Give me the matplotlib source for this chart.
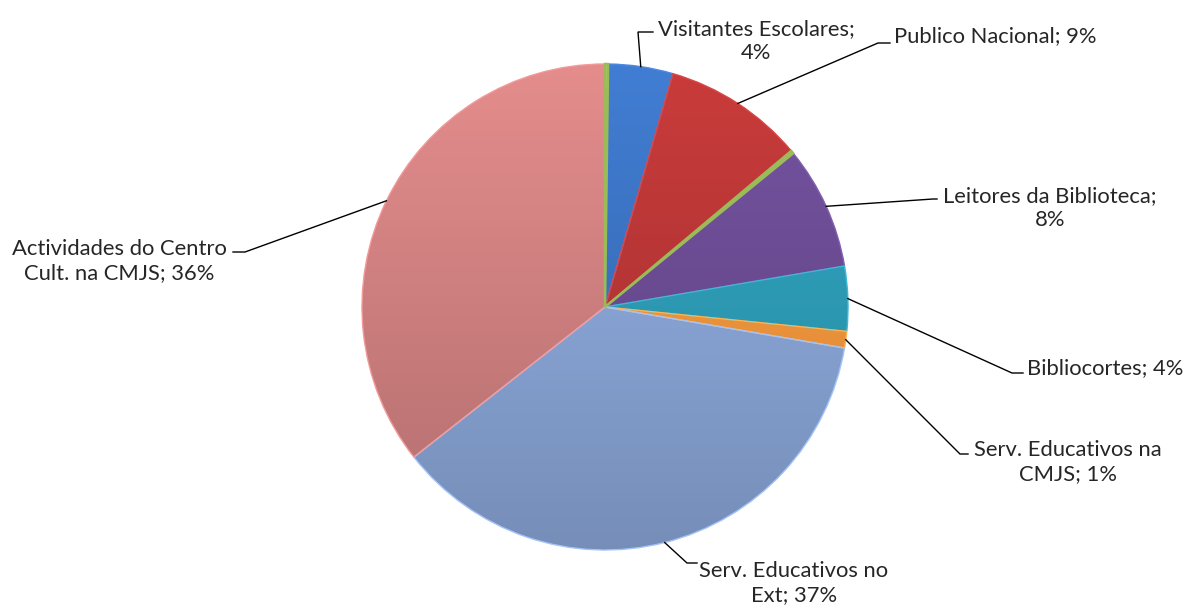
import textwrap
import numpy as np
import matplotlib
matplotlib.use("Agg")
import matplotlib.pyplot as plt
from matplotlib.colors import to_rgb
from matplotlib.patches import Wedge

# ---- data ----
categories = ["", "Visitantes Escolares", "Publico Nacional", "", "Leitores da Biblioteca",
              "Bibliocortes", "Serv. Educativos na CMJS", "Serv. Educativos no Ext",
              "Actividades do Centro Cult. na CMJS"]
values = [0.2, 4.3, 9.4, 0.2, 8.2, 4.3, 1.1, 36.7, 35.6]
colors = ["#9BBB59", "#3B72C0", "#B83636", "#9BBB59", "#6B4C93",
          "#2D9BB5", "#F0963C", "#89A5D6", "#D08080"]
wrap_widths = [0, 21, 40, 0, 23, 40, 19, 19, 21]

# label layout (pixel coords): text centre, elbow, end of horizontal stub
text_pos = [None, (756, 41), (995, 36), None, (1050, 208), (1105, 368), (1068, 462), (794, 583), (119, 261)]
elbows = [None, (638, 32), (878, 43), None, (933, 199), (1012, 373), (960, 454), (687, 563), (245, 252)]
stubs = [None, (653, 32), (890, 43), None, (937, 199), (1023, 373), (968, 454), (697, 563), (233, 252)]

W, H = 1189, 608
CX, CY, R = 605, 307, 243

plt.rcParams['font.family'] = ['Lato', 'DejaVu Sans']

fig = plt.figure(figsize=(W / 100, H / 100), dpi=100)
ax = fig.add_axes([0, 0, 1, 1])


def P(x, y):
    return (x, H - y)


wedges, _ = ax.pie(values, colors=colors, startangle=90, counterclock=False,
                   center=P(CX, CY), radius=R,
                   wedgeprops=dict(linewidth=0))

# vertical shading gradient, clipped to each wedge
ny = 200
fac = np.linspace(0.86, 1.10, ny)[:, None]  # row 0 = bottom (origin lower)
for i, (w, c) in enumerate(zip(wedges, colors)):
    base = np.array(to_rgb(c))
    img = np.clip(base[None, None, :] * fac[:, :, None], 0, 1)
    img = np.repeat(img, 2, axis=1)
    im = ax.imshow(img, extent=(CX - R, CX + R, H - CY - R, H - CY + R),
                   origin='lower', interpolation='bilinear', zorder=2, aspect='auto')
    im.set_clip_path(w)
    if categories[i]:
        edge = np.clip(base * 1.12 + 0.04, 0, 1)
        lw = 1.0
    else:
        edge = base
        lw = 1.8
    ax.add_patch(Wedge(w.center, w.r, w.theta1, w.theta2,
                       facecolor='none', edgecolor=edge, linewidth=lw,
                       zorder=3 if categories[i] else 3.5))

total = sum(values)
for i, w in enumerate(wedges):
    if not categories[i]:
        continue
    pct = round(values[i] / total * 100)
    txt = textwrap.fill(f"{categories[i]}; {pct}%", width=wrap_widths[i])
    ang = np.deg2rad((w.theta1 + w.theta2) / 2)
    x0 = w.center[0] + R * np.cos(ang)
    y0 = w.center[1] + R * np.sin(ang)
    ex, ey = P(*elbows[i])
    sx, sy = P(*stubs[i])
    ax.plot([x0, ex, sx], [y0, ey, sy], color='black', lw=1.0, zorder=4,
            solid_joinstyle='miter')
    tx, ty = P(*text_pos[i])
    ax.text(tx, ty, txt, ha='center', va='center', multialignment='center',
            fontsize=15.8, color='#262626', linespacing=1.3, zorder=5)

ax.set_xlim(0, W)
ax.set_ylim(0, H)
ax.set_aspect('equal')
ax.axis('off')

fig.savefig("out.png", dpi=100)
